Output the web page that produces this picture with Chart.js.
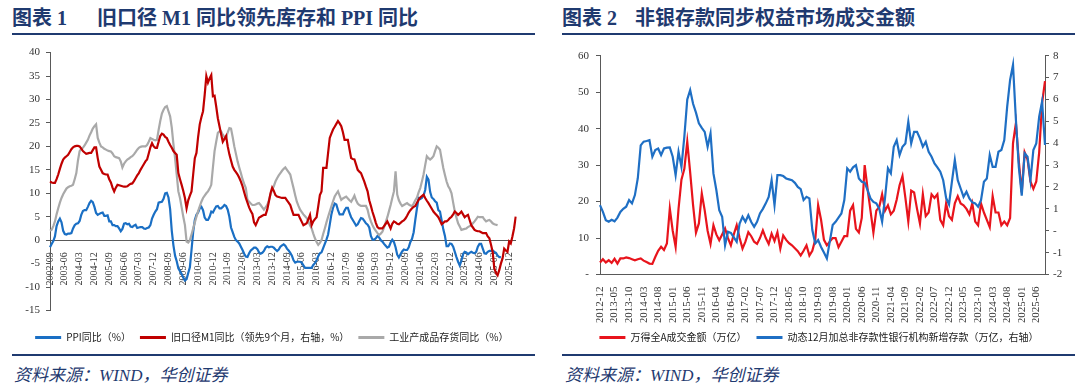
<!DOCTYPE html>
<html>
<head>
<meta charset="utf-8">
<script src="https://cdn.jsdelivr.net/npm/chart.js@4.4.1/dist/chart.umd.min.js"></script>
<style>
  body { margin: 0; width: 1080px; height: 388px; background: #fff; position: relative; overflow: hidden; }
  .ttl { position: absolute; top: 6px; font: bold 20px "Liberation Serif", "Noto Sans CJK SC", serif; color: #1f3a70; white-space: pre; line-height: 24px; }
  .rule { position: absolute; height: 2px; background: #1f3a70; }
  .src { position: absolute; top: 361px; font: italic 17px "Liberation Serif", "Noto Sans CJK SC", serif; color: #1f3a70; }
  canvas { position: absolute; top: 40px; }
</style>
</head>
<body>
<div class="ttl" style="left:12px">图表 1</div>
<div class="ttl" style="left:97px">旧口径 M1 同比领先库存和 PPI 同比</div>
<div class="ttl" style="left:562px">图表 2</div>
<div class="ttl" style="left:635px">非银存款同步权益市场成交金额</div>
<div class="rule" style="left:12px; width:523px; top:33px"></div>
<div class="rule" style="left:562px; width:513px; top:33px"></div>
<div class="rule" style="left:12px; width:523px; top:354px"></div>
<div class="rule" style="left:562px; width:513px; top:354px"></div>
<div class="src" style="left:14px">资料来源：WIND，华创证券</div>
<div class="src" style="left:565px">资料来源：WIND，华创证券</div>

<canvas id="left" width="540" height="315" style="left:0"></canvas>
<canvas id="right" width="540" height="315" style="left:540px"></canvas>

<script>
function monthLabels(year, month, n) {
  const out = [];
  for (let i = 0; i < n; i++) {
    const y = year + Math.floor((month - 1 + i) / 12);
    const m = (month - 1 + i) % 12 + 1;
    out.push(y + '-' + String(m).padStart(2, '0'));
  }
  return out;
}

// ---- left chart: 2002-09 .. 2026-04, monthly ----
const leftMonths = monthLabels(2002, 9, 284);

const ppi = [
  -1.5, -0.8, -0.2, 0.8,
  3.0, 4.0, 4.6, 3.8, 2.0, 1.3, 1.2, 1.4, 1.4, 1.5, 2.5, 3.2,
  3.5, 3.6, 4.1, 5.4, 6.2, 6.4, 6.4, 7.1, 7.9, 8.4, 8.1, 7.1,
  5.8, 5.4, 5.6, 5.8, 5.9, 5.2, 5.2, 5.3, 4.0, 4.0, 3.2, 3.2,
  3.0, 3.0, 2.5, 1.9, 2.4, 3.5, 3.6, 3.4, 3.5, 2.9, 2.8, 3.1,
  3.3, 2.6, 2.7, 2.8, 2.8, 2.5, 2.4, 2.6, 2.7, 3.2, 4.6, 5.4,
  6.1, 6.6, 8.0, 8.1, 8.2, 8.8, 10.0, 10.1, 9.1, 6.6, 2.0, -1.1,
  -3.3, -4.5, -6.0, -6.6, -7.2, -8.0, -8.6, -8.3, -7.0, -5.8, -2.1, 1.7,
  4.3, 5.4, 5.9, 6.8, 7.1, 6.4, 4.8, 4.3, 4.3, 5.0, 6.1, 5.9,
  6.6, 7.2, 7.3, 6.8, 6.8, 7.1, 7.5, 7.3, 6.5, 5.0, 2.7, 1.7,
  0.7, 0.0, -0.3, -0.7, -1.4, -2.1, -2.9, -3.5, -3.6, -2.8, -2.2, -1.9,
  -1.6, -1.6, -1.9, -2.6, -2.9, -2.7, -2.3, -1.6, -1.3, -1.5, -1.4, -1.4,
  -1.6, -2.0, -2.3, -2.0, -1.4, -1.1, -0.9, -1.2, -1.8, -2.2, -2.7, -3.3,
  -4.3, -4.8, -4.6, -4.6, -4.6, -4.8, -5.4, -5.9, -5.9, -5.9, -5.9, -5.9,
  -5.3, -4.9, -4.3, -3.4, -2.8, -2.6, -1.7, -0.8, 0.1, 1.2, 3.3, 5.5,
  6.9, 7.8, 7.6, 6.4, 5.5, 5.5, 5.5, 6.3, 6.9, 6.9, 5.8, 4.9,
  4.3, 3.7, 3.1, 3.4, 4.1, 4.7, 4.6, 4.1, 3.6, 3.3, 2.7, 0.9,
  0.1, 0.1, 0.4, 0.9, 0.6, 0.0, -0.3, -0.8, -1.2, -1.6, -1.4, -0.5,
  0.1, -0.4, -1.5, -3.1, -3.7, -3.0, -2.4, -2.0, -2.1, -2.1, -1.5, -0.4,
  0.3, 1.7, 4.4, 6.8, 9.0, 8.8, 9.0, 9.5, 10.7, 13.5, 12.9, 10.3,
  9.1, 8.8, 8.3, 8.0, 6.4, 6.1, 4.2, 2.3, 0.9, -1.3, -1.3, -0.7,
  -0.8, -1.4, -2.5, -3.6, -4.6, -5.4, -4.4, -3.0, -2.5, -2.6, -3.0, -2.7,
  -2.5, -2.7, -2.8, -2.5, -1.4, -0.8, -0.8, -1.8, -2.8, -2.9, -2.5, -2.3,
  -2.3, -2.2, -2.5, -2.7, -3.3, -3.6, -3.6
];

const m1Lead = [
  12.5, 12.3, 12.2, 12.2, 13.0, 14.0, 15.2, 16.3, 17.2, 17.6, 17.9, 18.2,
  18.8, 19.4, 19.8, 20.0, 20.1, 20.1, 20.0, 19.5, 19.0, 18.7, 18.4, 18.5,
  18.6, 18.6, 19.2, 19.8, 19.8, 17.5, 15.7, 15.0, 14.3, 14.1, 14.0, 14.0,
  13.0, 12.3, 11.2, 10.4, 11.2, 11.8, 11.7, 11.6, 11.5, 11.4, 11.4, 11.5,
  11.8, 12.0, 12.1, 12.6, 13.2, 13.8, 14.3, 15.0, 15.6, 16.2, 16.8, 17.2,
  18.5, 19.8, 20.7, 20.0, 19.7, 19.7, 21.0, 22.2, 22.7, 22.5, 22.0, 21.8,
  21.0, 20.3, 19.7, 19.0, 18.6, 18.2, 14.3, 13.0, 11.8, 10.5, 9.0, 6.8,
  8.5, 9.5, 10.4, 14.0, 17.5, 18.6, 22.0, 24.7, 26.2, 27.5, 31.0, 35.0,
  33.6, 34.5, 35.2, 30.7, 30.8, 28.5, 26.0, 24.3, 22.6, 21.0, 21.6, 22.2,
  20.0, 18.3, 17.0, 15.7, 15.0, 14.5, 14.0, 13.3, 12.5, 11.5, 10.2, 9.0,
  8.0, 7.0, 6.2, 5.6, 3.8, 3.2, 4.0, 4.8, 5.0, 5.2, 5.4, 5.4,
  6.5, 8.2, 10.0, 11.2, 10.5, 9.6, 9.3, 9.2, 9.1, 9.0, 9.0, 9.0,
  8.5, 8.0, 7.5, 6.4, 5.4, 5.4, 5.4, 5.4, 4.6, 3.9, 3.2, 3.4,
  3.6, 4.5, 5.4, 3.2, 4.0, 4.5, 4.9, 7.2, 9.6, 10.4, 15.4, 15.4,
  15.4, 18.6, 21.8, 22.7, 23.6, 24.2, 24.8, 25.4, 24.9, 24.3, 23.0, 21.4,
  21.4, 21.4, 19.4, 17.5, 17.3, 17.2, 16.1, 15.0, 14.6, 14.3, 13.4, 12.5,
  11.4, 10.4, 8.5, 7.3, 6.0, 4.9, 3.7, 2.8, 2.5, 2.5, 2.5, 3.0,
  3.5, 4.0, 3.3, 2.5, 3.5, 4.0, 3.8, 3.5, 3.4, 3.7, 4.0, 4.2,
  4.6, 5.2, 5.9, 6.4, 6.8, 7.1, 7.3, 8.0, 8.6, 9.1, 9.4, 9.7,
  9.0, 8.4, 7.9, 7.3, 6.7, 6.1, 5.7, 5.3, 4.9, 4.2, 3.4, 3.7,
  4.0, 4.0, 4.3, 4.7, 5.0, 5.5, 6.1, 5.8, 5.4, 5.7, 6.1, 5.5,
  4.9, 5.2, 5.4, 4.3, 3.2, 2.7, 2.2, 2.0, 1.9, 1.9, 1.7, 1.5,
  1.5, 1.5, 0.8, 0.4, -1.0, -2.5, -6.0, -7.0, -7.5, -6.4, -5.0, -3.9,
  -1.8, -2.2, -2.5, -0.3, -0.7, 0.8, 2.5, 5.0
];

const inventory = [
  2.0, 2.2, 3.0, 4.0, 5.5, 6.8, 8.0, 9.0, 9.8, 10.4, 11.0, 11.3,
  11.5, 11.6, 11.8, 13.0, 14.3, 17.0, 19.0, 19.5, 19.7, 20.2, 20.8, 21.4,
  22.3, 23.0, 23.8, 24.3, 24.7, 21.8, 20.8, 20.0, 19.8, 19.5, 19.3, 19.1,
  19.0, 18.9, 18.5, 17.9, 17.7, 17.6, 17.5, 16.8, 15.5, 16.3, 16.8, 17.2,
  17.4, 17.7, 17.9, 18.3, 18.8, 19.3, 19.7, 19.9, 20.0, 20.0, 20.0, 20.3,
  21.0, 21.8, 21.6, 21.4, 21.3, 21.4, 23.5, 25.4, 27.0, 27.8, 28.4, 28.6,
  27.5, 26.4, 24.0, 20.5, 17.5, 14.0, 10.4, 9.0, 7.0, 5.0, 3.2, -0.3,
  -0.5, 0.0, 1.2, 2.5, 3.8, 5.0, 6.2, 7.2, 8.2, 9.0, 9.5, 10.0,
  10.4, 11.0, 11.8, 15.5, 19.0, 21.0, 22.9, 23.2, 23.2, 22.5, 22.0, 21.8,
  23.0, 23.9, 23.8, 22.0, 20.0, 18.4, 16.8, 15.5, 14.3, 13.0, 12.0, 11.1,
  8.6, 8.2, 7.8, 7.5, 7.5, 7.6, 7.8, 7.9, 7.5, 7.0, 6.5, 7.0,
  7.5, 8.5, 9.7, 10.8, 11.5, 12.5, 13.2, 13.8, 14.3, 14.8, 15.2, 15.5,
  15.0, 14.5, 14.0, 12.5, 11.1, 9.6, 8.2, 7.3, 6.5, 6.0, 5.5, 5.1,
  4.7, 4.0, 3.2, 2.5, 1.4, 0.4, -0.4, -1.0, -0.6, 0.0, 1.3, 2.5,
  3.8, 5.0, 6.1, 7.2, 8.3, 9.3, 9.9, 10.4, 9.5, 8.6, 8.9, 9.1,
  9.3, 8.9, 8.5, 8.2, 8.8, 9.5, 8.5, 7.8, 7.5, 7.3, 7.3, 7.3,
  7.3, 6.5, 5.0, 4.0, 3.2, 2.5, 2.0, 1.5, 1.1, 1.4, 1.8, 2.7,
  3.8, 4.9, 6.2, 7.5, 9.0, 10.4, 14.7, 9.7, 8.5, 7.8, 7.3, 7.5,
  7.7, 7.9, 7.6, 7.4, 7.3, 7.8, 8.5, 9.1, 10.2, 11.1, 12.5, 14.0,
  16.0, 17.9, 17.5, 17.2, 17.5, 17.9, 19.0, 20.0, 19.7, 19.3, 17.3, 15.4,
  13.9, 12.5, 11.5, 10.9, 10.0, 8.0, 6.1, 4.8, 3.6, 2.9, 2.2, 2.3,
  2.4, 2.5, 2.8, 3.0, 3.2, 3.6, 4.0, 4.5, 5.0, 4.9, 4.9, 4.9,
  4.4, 4.0, 4.2, 4.3, 4.0, 3.6, 3.4, 3.3, 3.2
];

// ---- right chart: 2012-12 .. 2025-09, monthly ----
const rightMonths = monthLabels(2012, 12, 154);

const turnover = [
  3.3, 4.2, 3.3, 3.9, 3.2, 4.3, 3.0, 4.4, 4.4, 4.7, 4.5, 4.2,
  3.9, 4.2, 4.4, 3.8, 3.4, 3.0, 2.9, 4.8, 6.5, 7.6, 6.7, 8.5,
  18.1, 12.0, 7.6, 18.0, 26.0, 29.0, 36.4, 28.0, 19.0, 11.5, 14.0, 22.2,
  17.6, 12.0, 8.4, 13.5, 11.0, 9.4, 11.0, 12.6, 10.0, 8.0, 11.0, 13.5,
  10.0, 7.1, 9.0, 11.6, 10.5, 9.0, 8.4, 10.0, 12.1, 10.0, 8.4, 11.2,
  9.2, 11.6, 7.1, 10.7, 9.5, 8.6, 8.0, 7.2, 6.4, 5.2, 6.5, 8.0,
  5.2, 6.5, 9.5, 19.0, 15.0, 9.5, 8.0, 9.0, 10.0, 10.0, 7.5, 9.0,
  10.5, 10.5, 17.5, 19.0, 12.5, 11.5, 15.5, 30.0, 23.5, 17.5, 11.5, 17.5,
  18.5, 22.0, 17.5, 19.0, 16.5, 17.5, 20.5, 24.5, 27.0, 21.0, 14.5, 23.0,
  22.5, 18.0, 14.0, 22.0, 16.0, 17.0, 22.0, 21.0, 22.0, 15.0, 13.5, 19.5,
  16.0, 15.0, 19.5, 21.5, 19.5, 19.0, 18.0, 16.5, 19.5, 14.5, 13.5, 19.5,
  17.0, 15.0, 13.0, 21.5, 17.0, 17.0, 13.5, 14.5, 13.5, 15.5, 36.0, 41.5,
  31.0, 22.5, 33.5, 31.5, 25.5, 23.5, 25.5, 33.5, 47.0, 53.0
];

const nonbankDeposits = [
  1.17, 0.86, 0.48, 0.41, 0.5, 0.43, 0.6, 0.86, 1.0, 1.1, 1.4, 1.25,
  1.63, 2.4, 3.9, 4.07, 4.1, 4.14, 3.38, 3.69, 3.76, 3.46, 3.76, 3.8,
  3.81, 3.38, 2.54, 3.61, 2.92, 4.3, 6.0, 6.43, 5.8, 5.4, 4.91, 4.7,
  4.52, 3.84, 4.45, 2.62, 1.86, 0.94, 0.64, -0.66, -0.05, -0.1, -0.3, -0.5,
  0.33, 0.64, 0.41, 0.71, 0.4, 0.18, 0.41, 0.79, 1.0, 1.25, 1.55, 2.31,
  1.17, 2.54, 2.54, 2.5, 2.39, 2.35, 2.31, 2.19, 2.0, 1.9, 1.4, 1.55,
  1.48, 0.03, -0.58, -0.43, -0.74, -1.0, -1.27, -0.5, 0.26, 0.41, 0.6, 0.79,
  1.4, 2.85, 2.7, 2.9, 3.0, 2.39, 2.24, 2.2, 1.86, 1.48, 1.32, 1.25,
  1.02, 0.41, 1.5, 2.85, 2.62, 3.84, 4.14, 3.46, 3.84, 3.99, 4.98, 3.99,
  4.52, 4.52, 4.22, 3.84, 4.07, 3.61, 3.38, 3.08, 2.9, 2.7, 2.31, 1.5,
  1.2, 2.24, 3.23, 2.31, 1.93, 1.55, 1.78, 1.48, 1.3, 1.25, 1.1, 1.4,
  2.24, 2.39, 3.46, 2.92, 2.92, 3.61, 3.69, 4.14, 5.67, 6.89, 7.58, 5.06,
  2.92, 1.6, 3.54, 3.38, 2.31, 3.69, 3.99, 5.21, 5.9, 3.92
];

Chart.defaults.font.family = '"Liberation Serif", serif';
Chart.defaults.color = '#333';

const axisColor = '#595959';
const legendFont = { family: '"Noto Sans CJK SC", sans-serif', size: 10 };

function lineLegend(chart) {
  return Chart.defaults.plugins.legend.labels.generateLabels(chart).map(l => ({ ...l, lineWidth: 0 }));
}

// nudge the legend sideways so it sits where the original puts it
function shiftLegend(dx) {
  return {
    id: 'shiftLegend',
    afterLayout(chart) {
      chart.legend.left += dx;
      chart.legend.right += dx;
    }
  };
}

new Chart(document.getElementById('left'), {
  type: 'line',
  data: {
    labels: leftMonths,
    datasets: [
      { label: 'PPI同比（%）', data: ppi, borderColor: '#1a6fc4', backgroundColor: '#1a6fc4', borderWidth: 2.2, pointRadius: 0, yAxisID: 'y', order: 2 },
      { label: '旧口径M1同比（领先9个月，右轴，%）', data: m1Lead, borderColor: '#c00000', backgroundColor: '#c00000', borderWidth: 2.2, pointRadius: 0, yAxisID: 'y1', order: 0 },
      { label: '工业产成品存货同比（%）', data: inventory, borderColor: '#a9a9a9', backgroundColor: '#a9a9a9', borderWidth: 2.2, pointRadius: 0, yAxisID: 'y', order: 1 }
    ]
  },
  plugins: [shiftLegend(14)],
  options: {
    responsive: false,
    animation: false,
    layout: { padding: { top: 11.5, right: 24.3, left: 0, bottom: 2.5 } },
    plugins: {
      tooltip: { enabled: false },
      legend: {
        position: 'bottom',
        title: { display: true, text: '', font: { size: 1 }, padding: { top: 11.8, bottom: 0 } },
        labels: { boxWidth: 26, boxHeight: 3, padding: 9, color: '#222', font: legendFont, generateLabels: lineLegend, sort: (a, b) => a.datasetIndex - b.datasetIndex }
      }
    },
    scales: {
      x: {
        type: 'category',
        position: { y: 0 },
        grid: { display: false },
        border: { display: true, color: axisColor },
        ticks: {
          autoSkip: false, maxRotation: 90, minRotation: 90, padding: 4,
          font: { size: 10 },
          callback: (v, i) => (i % 9 === 0 ? leftMonths[i] : null)
        }
      },
      y: {
        min: -15, max: 40,
        afterFit: s => { s.width = 50; },
        grid: { drawOnChartArea: false, drawTicks: true, tickLength: 4, color: axisColor },
        border: { display: true, color: axisColor },
        ticks: { stepSize: 5, padding: 6, font: { size: 11 } }
      },
      y1: { display: false, min: -15, max: 40 }
    }
  }
});

new Chart(document.getElementById('right'), {
  type: 'line',
  data: {
    labels: rightMonths,
    datasets: [
      { label: '万得全A成交金额（万亿）', data: turnover, borderColor: '#e8141c', backgroundColor: '#e8141c', borderWidth: 2.2, pointRadius: 0, yAxisID: 'y', order: 1 },
      { label: '动态12月加总非存款性银行机构新增存款（万亿，右轴）', data: nonbankDeposits, borderColor: '#1f6fc4', backgroundColor: '#1f6fc4', borderWidth: 2.2, pointRadius: 0, yAxisID: 'y1', order: 0 }
    ]
  },
  plugins: [shiftLegend(9)],
  options: {
    responsive: false,
    animation: false,
    layout: { padding: { top: 15.7, right: 0, left: 0, bottom: 2.5 } },
    plugins: {
      tooltip: { enabled: false },
      legend: {
        position: 'bottom',
        labels: { boxWidth: 26, boxHeight: 3, padding: 10, color: '#222', font: legendFont, generateLabels: lineLegend, sort: (a, b) => a.datasetIndex - b.datasetIndex }
      }
    },
    scales: {
      x: {
        type: 'category',
        afterFit: s => { s.height = 48; },
        grid: { display: false },
        border: { display: true, color: axisColor },
        ticks: {
          autoSkip: false, maxRotation: 90, minRotation: 90, padding: 4,
          font: { size: 11 },
          callback: (v, i) => (i % 5 === 0 ? rightMonths[i] : null)
        }
      },
      y: {
        position: 'left',
        min: 0, max: 60,
        afterFit: s => { s.width = 60; },
        grid: { drawOnChartArea: false, drawTicks: true, tickLength: 4, color: axisColor },
        border: { display: true, color: axisColor },
        ticks: { stepSize: 10, padding: 7, font: { size: 11 }, callback: v => (v === 0 ? '-' : v) }
      },
      y1: {
        position: 'right',
        min: -2, max: 8,
        afterFit: s => { s.width = 35; },
        grid: { drawOnChartArea: false, drawTicks: true, tickLength: 4, color: axisColor },
        border: { display: true, color: axisColor },
        ticks: { stepSize: 1, padding: 4, font: { size: 11 }, callback: v => (v === 0 ? '-' : v) }
      }
    }
  }
});
</script>
</body>
</html>
